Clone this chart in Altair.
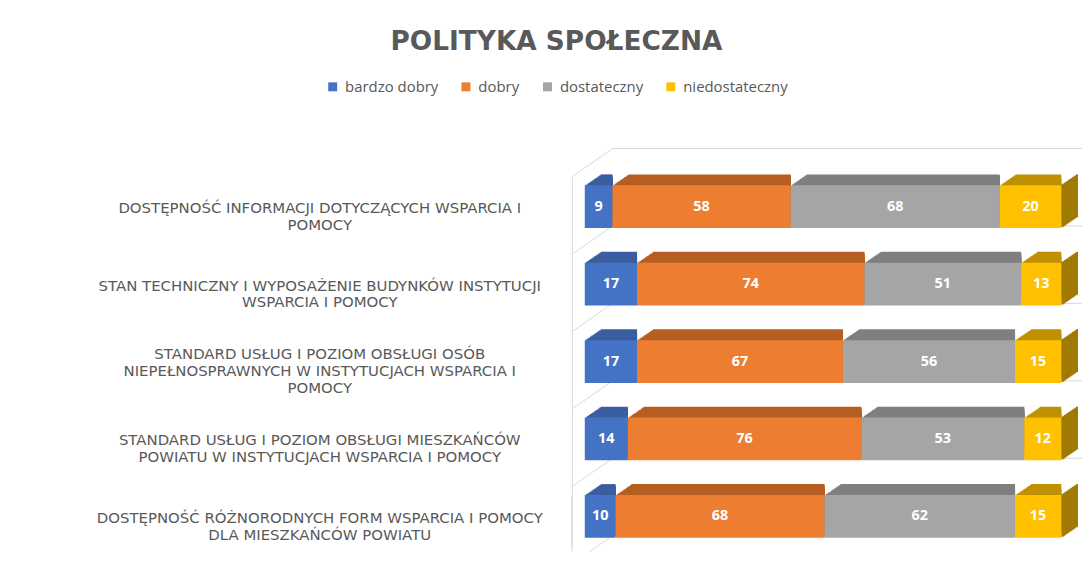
import altair as alt
import pandas as pd

categories = [
    "DOSTĘPNOŚĆ INFORMACJI DOTYCZĄCYCH WSPARCIA I|POMOCY",
    "STAN TECHNICZNY I WYPOSAŻENIE BUDYNKÓW INSTYTUCJI|WSPARCIA I POMOCY",
    "STANDARD USŁUG I POZIOM OBSŁUGI OSÓB|NIEPEŁNOSPRAWNYCH W INSTYTUCJACH WSPARCIA I|POMOCY",
    "STANDARD USŁUG I POZIOM OBSŁUGI MIESZKAŃCÓW|POWIATU W INSTYTUCJACH WSPARCIA I POMOCY",
    "DOSTĘPNOŚĆ RÓŻNORODNYCH FORM WSPARCIA I POMOCY|DLA MIESZKAŃCÓW POWIATU",
]
series = ["bardzo dobry", "dobry", "dostateczny", "niedostateczny"]
bardzo_dobry = [9, 17, 17, 14, 10]
dobry = [58, 74, 67, 76, 68]
dostateczny = [68, 51, 56, 53, 62]
niedostateczny = [20, 13, 15, 12, 15]

values_by_series = [bardzo_dobry, dobry, dostateczny, niedostateczny]
rows = []
for si, (s, vals) in enumerate(zip(series, values_by_series)):
    for c, v in zip(categories, vals):
        rows.append({"cat": c, "series": s, "order": si, "value": v})
df = pd.DataFrame(rows)

front_colors = ["#4472C4", "#ED7D31", "#A5A5A5", "#FFC000"]
top_expr = "['#3A5E9F', '#B65F22', '#7F7F7F', '#BF9000'][datum.order]"
side_color = "#A07A00"
text_gray = "#595959"
wall_gray = "#D9D9D9"

DX, DY, N = 16.0, 11.0, 12
W, H = 479, 370

base = alt.Chart(df).transform_stack(
    stack="value",
    groupby=["cat"],
    as_=["x0", "x1"],
    sort=[alt.SortField("order")],
    offset="normalize",
).transform_calculate(mid="(datum.x0 + datum.x1) / 2", topcol=top_expr)

x_scale = alt.Scale(domain=[0, 1], nice=False, zero=False)
y_scale = alt.Scale(paddingInner=0.448, paddingOuter=0.1)
y_axis = alt.Axis(
    labelExpr="split(datum.label, '|')",
    labelAlign="center",
    labelBaseline="middle",
    labelPadding=254,
    labelLimit=800,
    labelFont="DejaVu Sans",
    labelFontSize=15,
    labelColor=text_gray,
    labelLineHeight=17,
    labelOffset={"condition": {"test": "indexof(datum.value, 'OSÓB') >= 0", "value": -7.5}, "value": 1.5},
    ticks=False,
    tickSize=0,
    domain=True,
    domainColor=wall_gray,
    domainWidth=1,
    offset=13,
    grid=False,
)
y_enc = alt.Y("cat:N", sort=categories, title=None, scale=y_scale, axis=y_axis)

layers = []

# 3D wall lines (diagonals on the side wall, horizontal lines on the back wall)
walls = alt.Chart(df).transform_filter("datum.order == 0")
last_wall = walls.transform_filter(alt.datum.cat == categories[-1])
layers.append(
    walls.mark_rule(color=wall_gray, strokeWidth=1, yOffset=-8.5, y2Offset=-37).encode(
        x=alt.value(-13), x2=alt.value(28),
        y=alt.Y("cat:N", sort=categories, title=None, scale=y_scale, axis=y_axis, bandPosition=0),
        y2=alt.Y2("cat:N", bandPosition=0),
    )
)
layers.append(
    walls.mark_rule(color=wall_gray, strokeWidth=1, yOffset=-37).encode(
        x=alt.value(28), x2=alt.value(W + 30),
        y=alt.Y("cat:N", sort=categories, title=None, scale=y_scale, axis=y_axis, bandPosition=0),
    )
)
layers.append(
    last_wall.mark_rule(
        color=wall_gray, strokeWidth=1, yOffset=(77.9 - 43) - 8.5, y2Offset=(77.9 - 43) - 37
    ).encode(
        x=alt.value(-13), x2=alt.value(28),
        y=alt.Y("cat:N", sort=categories, title=None, scale=y_scale, axis=y_axis, bandPosition=1),
        y2=alt.Y2("cat:N", bandPosition=1),
    )
)
# left wall continues to the bottom edge
layers.append(
    last_wall.mark_rule(color=wall_gray, strokeWidth=1, y2Offset=40).encode(
        x=alt.value(-13),
        y=alt.Y("cat:N", sort=categories, title=None, scale=y_scale, axis=y_axis, bandPosition=0),
        y2=alt.Y2("cat:N", bandPosition=1),
    )
)

# extrusion (top faces)
for i in range(N, 0, -1):
    layers.append(
        base.mark_bar(xOffset=DX * i / N, yOffset=-DY * i / N).encode(
            x=alt.X("x0:Q", scale=x_scale, axis=None),
            x2="x1:Q",
            y=y_enc,
            fill=alt.Fill("topcol:N", scale=None),
        )
    )
# right side face of the last segment
for i in range(N, 0, -1):
    layers.append(
        base.transform_filter("datum.order == 3").mark_tick(
            orient="vertical", size=43, thickness=2,
            xOffset=DX * i / N, yOffset=-DY * i / N, color=side_color, opacity=1,
        ).encode(
            x=alt.X("x1:Q", scale=x_scale, axis=None),
            y=y_enc,
        )
    )

front = base.mark_bar().encode(
    x=alt.X("x0:Q", scale=x_scale, axis=None),
    x2="x1:Q",
    y=y_enc,
    color=alt.Color(
        "series:N",
        sort=series,
        scale=alt.Scale(domain=series, range=front_colors),
        legend=alt.Legend(
            orient="none",
            legendX=-261,
            legendY=-99,
            direction="horizontal",
            columns=4,
            title=None,
            symbolType="square",
            symbolSize=81,
            symbolStrokeWidth=0,
            labelFont="Open Sans",
            labelFontSize=15,
            labelColor=text_gray,
            labelOffset=5,
            columnPadding=20,
        ),
    ),
)
labels = base.mark_text(
    font="Open Sans", fontWeight="bold", fontSize=14.5, color="white"
).encode(
    x=alt.X("mid:Q", scale=x_scale, axis=None),
    y=y_enc,
    text="value:Q",
)
layers += [front, labels]

chart = alt.layer(*layers).properties(
    width=W,
    height=H,
    autosize=alt.AutoSizeParams(type="none"),
    padding={"left": 580, "top": 169, "right": 21, "bottom": 5},
    title=alt.TitleParams(
        "POLITYKA SPOŁECZNA",
        font="DejaVu Sans",
        fontSize=26.5,
        fontWeight="bold",
        color=text_gray,
        anchor="middle",
        frame="group",
        baseline="alphabetic",
        offset=3,
        dx=-268,
    ),
    background="white",
).configure_view(stroke=None)

chart.save("out.html", embed_options={"renderer": "svg", "actions": False})
